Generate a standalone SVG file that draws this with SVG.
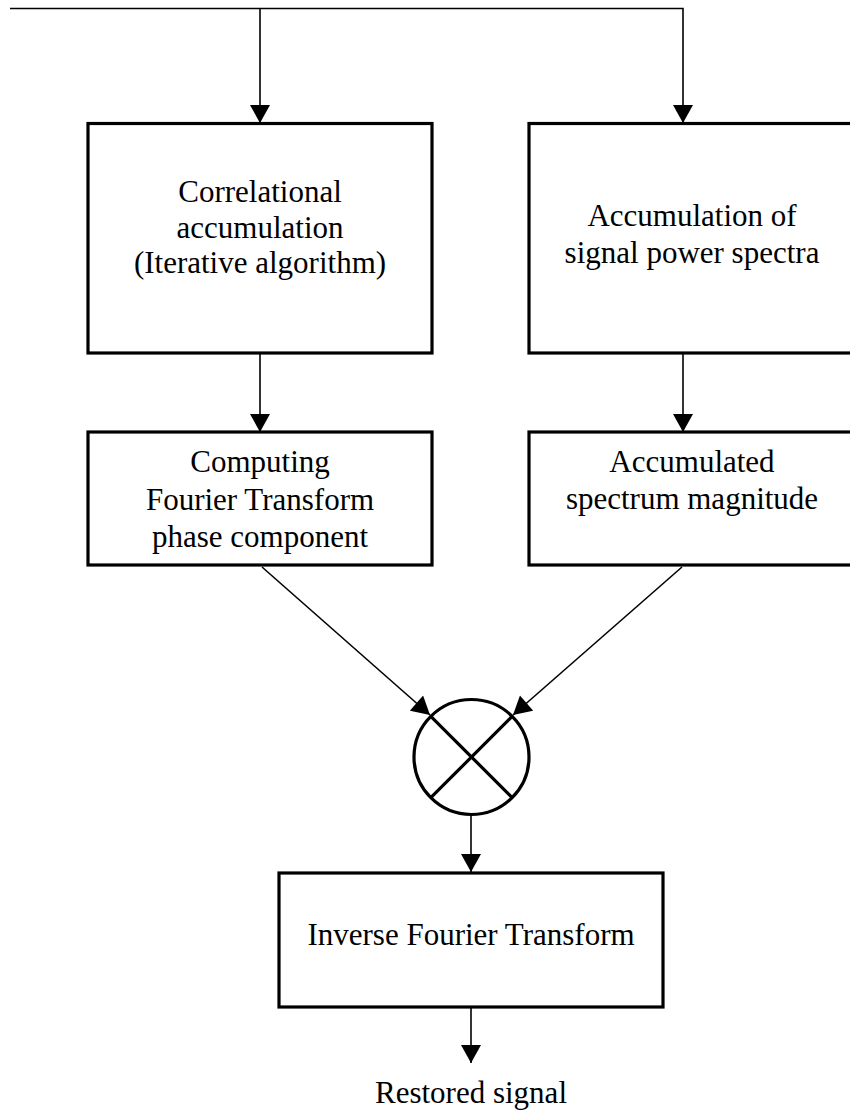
<svg xmlns="http://www.w3.org/2000/svg" width="850" height="1113" viewBox="0 0 850 1113">
<style>
.box{fill:#fff;stroke:#000;stroke-width:3.2}
.ln{fill:none;stroke:#000;stroke-width:1.6}
.t{font-family:"Liberation Serif","Times New Roman",serif;font-size:31px;fill:#000;text-anchor:middle}
</style>
<defs>
<marker id="ah" markerUnits="userSpaceOnUse" markerWidth="20" markerHeight="20" viewBox="0 0 18 20" refX="18" refY="10" orient="auto">
<path d="M0,0 L18,10 L0,20 Z" fill="#000"/>
</marker>
</defs>
<rect width="850" height="1113" fill="#fff"/>
<g id="connectors">
<polyline class="ln" points="10,8.5 683,8.5 683,123" marker-end="url(#ah)"/>
<line class="ln" x1="260" y1="8.5" x2="260" y2="123" marker-end="url(#ah)"/>
<line class="ln" x1="260" y1="353" x2="260" y2="432" marker-end="url(#ah)"/>
<line class="ln" x1="683" y1="353" x2="683" y2="432" marker-end="url(#ah)"/>
<line class="ln" x1="262" y1="567" x2="430" y2="715" marker-end="url(#ah)"/>
<line class="ln" x1="682" y1="567" x2="513" y2="715" marker-end="url(#ah)"/>
<line class="ln" x1="471" y1="815" x2="471" y2="872" marker-end="url(#ah)"/>
<line class="ln" x1="471" y1="1007" x2="471" y2="1063" marker-end="url(#ah)"/>
</g>
<g id="n1">
<rect class="box" x="88" y="123.5" width="344" height="229.5"/>
<text class="t" x="260" y="202">Correlational</text>
<text class="t" x="260" y="237.5">accumulation</text>
<text class="t" x="260" y="273">(Iterative algorithm)</text>
</g>
<g id="n2">
<rect class="box" x="529" y="123.5" width="327" height="229.5"/>
<text class="t" x="692" y="226">Accumulation of</text>
<text class="t" x="692" y="263">signal power spectra</text>
</g>
<g id="n3">
<rect class="box" x="88" y="432" width="344" height="133"/>
<text class="t" x="260" y="472">Computing</text>
<text class="t" x="260" y="510">Fourier Transform</text>
<text class="t" x="260" y="547">phase component</text>
</g>
<g id="n4">
<rect class="box" x="529" y="432" width="327" height="133"/>
<text class="t" x="692" y="472">Accumulated</text>
<text class="t" x="692" y="509">spectrum magnitude</text>
</g>
<g id="mult">
<circle cx="471.5" cy="757" r="57.5" fill="#fff" stroke="#000" stroke-width="3.2"/>
<line x1="430.8" y1="716.3" x2="512.2" y2="797.7" stroke="#000" stroke-width="3.2"/>
<line x1="512.2" y1="716.3" x2="430.8" y2="797.7" stroke="#000" stroke-width="3.2"/>
</g>
<g id="n5">
<rect class="box" x="279" y="873" width="384" height="134"/>
<text class="t" x="471" y="945">Inverse Fourier Transform</text>
</g>
<g id="out">
<text class="t" x="471" y="1103">Restored signal</text>
</g>
</svg>
